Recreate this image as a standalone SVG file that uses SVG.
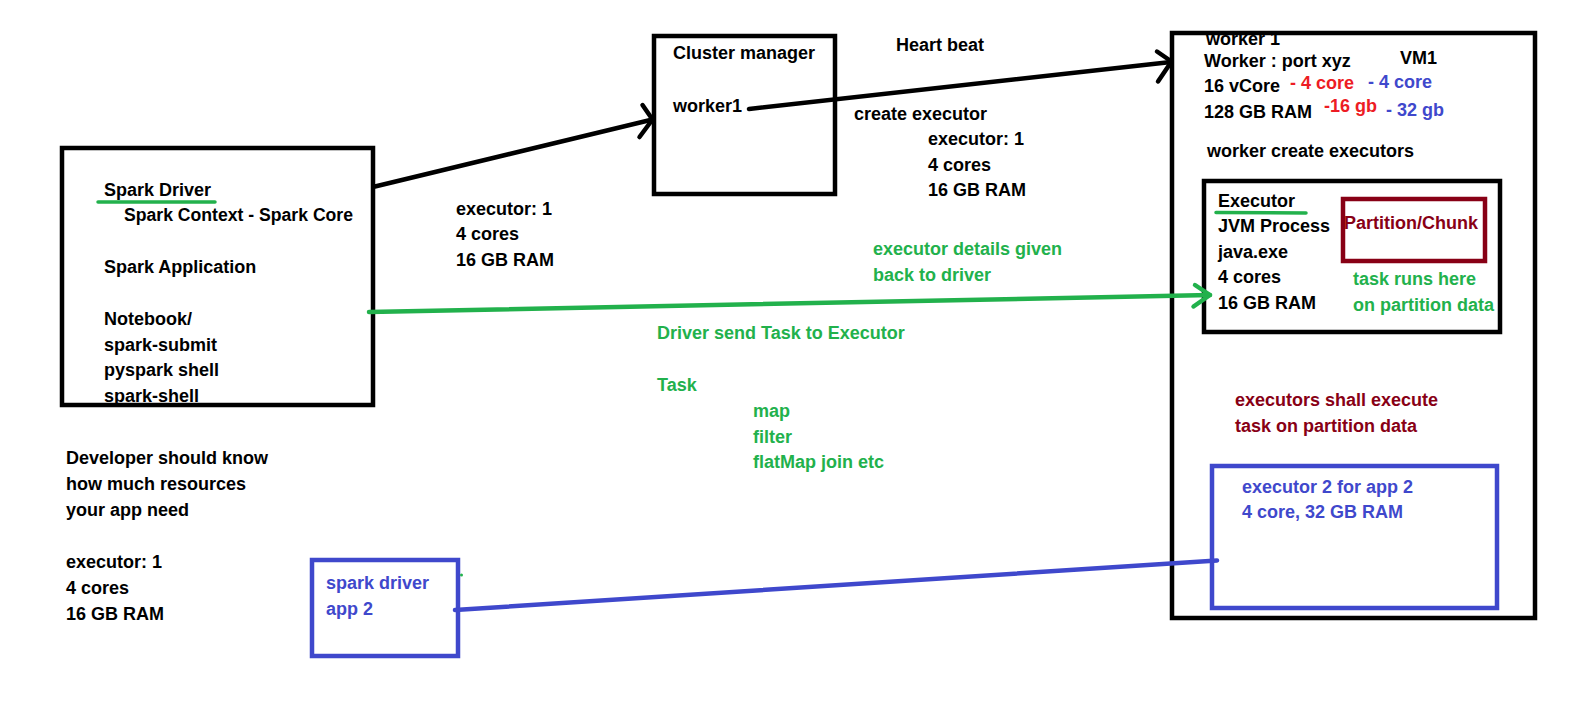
<svg xmlns="http://www.w3.org/2000/svg" width="1594" height="723" viewBox="0 0 1594 723">
<style>
text { font-family: "Liberation Sans", Arial, sans-serif; font-weight: bold; font-size: 18px; fill: #000; }
.g { fill: #22b14c; }
.r { fill: #ed1c24; }
.b { fill: #3f48cc; }
.d { fill: #880015; }
.box { fill: none; stroke: #000; stroke-width: 4.5; }
.line { fill: none; stroke-width: 4.5; stroke-linecap: round; stroke-linejoin: round; }
</style>
<rect x="0" y="0" width="1594" height="723" fill="#fff"/>

<g id="spark-driver">
  <rect class="box" x="62" y="148" width="311" height="257"/>
  <text x="104" y="196">Spark Driver</text>
  <path d="M98 202 L215 202" stroke="#22b14c" stroke-width="3.5" stroke-linecap="round"/>
  <text x="124" y="221" textLength="229" lengthAdjust="spacingAndGlyphs">Spark Context - Spark Core</text>
  <text x="104" y="273">Spark Application</text>
  <text x="104" y="325">Notebook/</text>
  <text x="104" y="351">spark-submit</text>
  <text x="104" y="376">pyspark shell</text>
  <text x="104" y="402">spark-shell</text>
</g>

<g id="driver-request">
  <text x="456" y="215">executor: 1</text>
  <text x="456" y="240">4 cores</text>
  <text x="456" y="266">16 GB RAM</text>
</g>

<g id="cluster-manager">
  <rect class="box" x="654" y="36" width="181" height="158"/>
  <text x="673" y="59">Cluster manager</text>
  <text x="673" y="112">worker1</text>
</g>

<g id="heartbeat-labels">
  <text x="896" y="51">Heart beat</text>
  <text x="854" y="120">create executor</text>
  <text x="928" y="145">executor: 1</text>
  <text x="928" y="171">4 cores</text>
  <text x="928" y="196">16 GB RAM</text>
</g>

<g id="worker">
  <text x="1206" y="45">worker 1</text>
  <rect class="box" x="1172" y="33" width="363" height="585"/>
  <text x="1204" y="67">Worker : port xyz</text>
  <text x="1400" y="64">VM1</text>
  <text x="1204" y="92">16 vCore</text>
  <text class="r" x="1290" y="89">- 4 core</text>
  <text class="b" x="1368" y="88">- 4 core</text>
  <text x="1204" y="118">128 GB RAM</text>
  <text class="r" x="1324" y="112">-16 gb</text>
  <text class="b" x="1386" y="116">- 32 gb</text>
  <text x="1207" y="157">worker create executors</text>
  <text class="d" x="1235" y="406">executors shall execute</text>
  <text class="d" x="1235" y="432">task on partition data</text>
</g>

<g id="executor">
  <rect class="box" x="1204" y="181" width="296" height="151"/>
  <text x="1218" y="207">Executor</text>
  <path d="M1216 212.5 L1306 213" stroke="#22b14c" stroke-width="3.5" stroke-linecap="round"/>
  <text x="1218" y="232">JVM Process</text>
  <text x="1218" y="258">java.exe</text>
  <text x="1218" y="283">4 cores</text>
  <text x="1218" y="309">16 GB RAM</text>
  <text class="g" x="1353" y="285">task runs here</text>
  <text class="g" x="1353" y="311">on partition data</text>
</g>

<g id="partition">
  <rect x="1343" y="199" width="142" height="62" fill="none" stroke="#880015" stroke-width="4.5"/>
  <text class="d" x="1344" y="229">Partition/Chunk</text>
</g>

<g id="executor-2">
  <rect x="1212" y="466" width="285" height="142" fill="none" stroke="#3f48cc" stroke-width="4.5"/>
  <text class="b" x="1242" y="493">executor 2 for app 2</text>
  <text class="b" x="1242" y="518">4 core, 32 GB RAM</text>
</g>

<g id="task-labels">
  <text class="g" x="873" y="255">executor details given</text>
  <text class="g" x="873" y="281">back to driver</text>
  <text class="g" x="657" y="339">Driver send Task to Executor</text>
  <text class="g" x="657" y="391">Task</text>
  <text class="g" x="753" y="417">map</text>
  <text class="g" x="753" y="443">filter</text>
  <text class="g" x="753" y="468">flatMap join etc</text>
</g>

<g id="developer-note">
  <text x="66" y="464">Developer should know</text>
  <text x="66" y="490">how much resources</text>
  <text x="66" y="516">your app need</text>
  <text x="66" y="568">executor: 1</text>
  <text x="66" y="594">4 cores</text>
  <text x="66" y="620">16 GB RAM</text>
</g>

<g id="spark-driver-app2">
  <rect x="312" y="560" width="146" height="96" fill="none" stroke="#3f48cc" stroke-width="4.5"/>
  <text class="b" x="326" y="589">spark driver</text>
  <text class="b" x="326" y="615">app 2</text>
  <circle cx="461.5" cy="575" r="1.5" fill="#22b14c"/>
</g>

<g id="connectors">
  <path class="line" stroke="#000" d="M375 186.5 L652.5 119.5"/>
  <path class="line" stroke="#000" d="M642.5 105 L652.5 119.5 L639.5 137"/>
  <path class="line" stroke="#000" d="M749 109 L1171 62"/>
  <path class="line" stroke="#000" d="M1157 51.5 L1171.5 61.5 L1158 81.5"/>
  <path class="line" stroke="#22b14c" d="M369 312 L1210 295"/>
  <path class="line" stroke="#22b14c" d="M1195 285 L1210 295 L1193.5 306.5"/>
  <path class="line" stroke="#3f48cc" d="M455 610 L1217 560.5"/>
</g>
</svg>
